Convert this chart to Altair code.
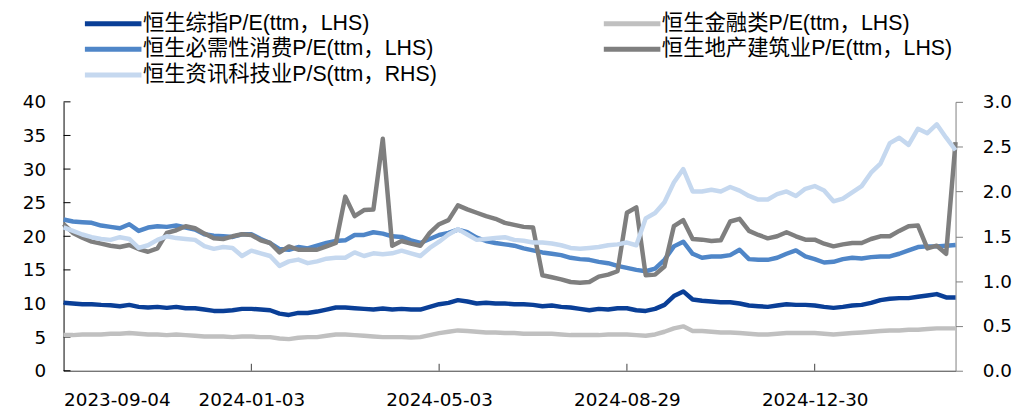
import altair as alt
import pandas as pd

# x-axis: trading-day index; ticks every 80 trading days
tick_idx = [0, 80, 160, 240, 320]
tick_labels = ["2023-09-04", "2024-01-03", "2024-05-03", "2024-08-29", "2024-12-30"]
x_max = 380
sample_step = 4  # trading days between samples

names = [
    "恒生综指P/E(ttm，LHS)",
    "恒生金融类P/E(ttm，LHS)",
    "恒生必需性消费P/E(ttm，LHS)",
    "恒生地产建筑业P/E(ttm，LHS)",
    "恒生资讯科技业P/S(ttm，RHS)",
]
colors = ["#0A3F97", "#C0C0C0", "#4F86C8", "#7F7F7F", "#C5D8EF"]
# legend fills column by column: left column first, then right column
legend_order = [0, 2, 4, 1, 3]

hsci = [10.1, 10.0, 9.9, 9.9, 9.8, 9.75, 9.6, 9.8, 9.5, 9.4,
        9.5, 9.35, 9.5, 9.3, 9.3, 9.1, 8.9, 8.9, 9.0, 9.2,
        9.2, 9.1, 9.0, 8.5, 8.3, 8.6, 8.6, 8.8, 9.1, 9.4,
        9.4, 9.3, 9.2, 9.1, 9.25, 9.1, 9.2, 9.1, 9.1, 9.5,
        9.9, 10.1, 10.5, 10.3, 10.0, 10.1, 10.0, 10.0, 9.9, 9.9,
        9.8, 9.6, 9.7, 9.5, 9.4, 9.2, 9.0, 9.2, 9.1, 9.3,
        9.3, 9.0, 8.9, 9.2, 9.8, 11.1, 11.8, 10.6, 10.4, 10.3,
        10.2, 10.2, 10.0, 9.7, 9.6, 9.5, 9.7, 9.9, 9.8, 9.8,
        9.7, 9.5, 9.35, 9.5, 9.7, 9.8, 10.1, 10.5, 10.7, 10.8,
        10.8, 11.0, 11.2, 11.4, 10.9, 10.9]

fin = [5.3, 5.3, 5.4, 5.4, 5.4, 5.5, 5.5, 5.6, 5.5, 5.4,
       5.4, 5.3, 5.4, 5.3, 5.2, 5.1, 5.1, 5.1, 5.0, 5.1,
       5.1, 5.0, 5.0, 4.8, 4.7, 4.9, 5.0, 5.0, 5.2, 5.4,
       5.4, 5.3, 5.2, 5.1, 5.0, 5.0, 5.0, 4.95, 5.0, 5.3,
       5.6, 5.8, 6.0, 5.9, 5.8, 5.7, 5.7, 5.6, 5.6, 5.5,
       5.5, 5.5, 5.5, 5.4, 5.3, 5.3, 5.3, 5.3, 5.4, 5.4,
       5.4, 5.3, 5.2, 5.4, 5.8, 6.3, 6.6, 5.9, 5.9, 5.8,
       5.7, 5.7, 5.6, 5.5, 5.4, 5.4, 5.5, 5.6, 5.6, 5.6,
       5.6, 5.5, 5.4, 5.5, 5.6, 5.7, 5.8, 5.9, 6.0, 6.0,
       6.1, 6.1, 6.2, 6.3, 6.3, 6.3]

staples = [22.5, 22.2, 22.1, 22.0, 21.6, 21.4, 21.2, 21.8, 20.8, 21.3,
           21.5, 21.4, 21.6, 21.3, 21.0, 20.3, 20.1, 20.0, 19.9, 20.3,
           20.3, 19.6, 19.0, 18.1, 18.0, 18.4, 18.2, 18.6, 19.0, 19.3,
           19.4, 20.2, 20.2, 20.6, 20.4, 20.0, 19.9, 19.4, 19.0, 19.6,
           20.2, 20.5, 21.0, 20.6, 19.8, 19.3, 19.0, 18.8, 18.6, 18.2,
           17.9, 17.6, 17.4, 17.2, 16.8, 16.6, 16.5, 16.2, 16.0, 15.6,
           15.3, 15.0, 14.8, 15.2, 16.5, 18.5, 19.2, 17.4, 16.8, 17.0,
           17.0, 17.2, 18.0, 16.6, 16.5, 16.5, 16.8, 17.4, 17.9, 17.0,
           16.6, 16.1, 16.2, 16.6, 16.8, 16.7, 16.9, 17.0, 17.0, 17.4,
           17.9, 18.4, 18.5, 18.5, 18.6, 18.7]

prop = [21.8, 20.5, 19.8, 19.2, 18.9, 18.6, 18.4, 18.7, 18.1, 17.7,
        18.2, 20.5, 20.9, 21.5, 21.2, 20.4, 19.7, 19.6, 20.0, 20.3,
        20.2, 19.4, 19.0, 17.6, 18.5, 18.0, 18.0, 18.0, 18.5, 19.0,
        25.9, 23.0, 23.9, 24.0, 34.5, 18.6, 19.3, 18.9, 18.6, 20.5,
        21.8, 22.4, 24.6, 24.0, 23.5, 23.0, 22.6, 22.0, 21.7, 21.4,
        21.3, 14.2, 13.9, 13.6, 13.2, 13.1, 13.2, 14.0, 14.3, 14.8,
        23.5, 24.3, 14.2, 14.3, 15.5, 21.5, 22.4, 19.6, 19.5, 19.3,
        19.4, 22.2, 22.6, 20.8, 20.2, 19.7, 20.0, 20.6, 20.0, 19.5,
        19.5, 18.9, 18.5, 18.8, 19.0, 19.0, 19.6, 20.0, 20.0, 20.8,
        21.5, 21.6, 18.2, 18.6, 17.4, 34.0]

tech = [1.60, 1.56, 1.52, 1.49, 1.47, 1.46, 1.49, 1.47, 1.37, 1.40,
        1.46, 1.50, 1.48, 1.47, 1.46, 1.39, 1.36, 1.38, 1.37, 1.28,
        1.34, 1.31, 1.28, 1.17, 1.22, 1.24, 1.20, 1.22, 1.25, 1.26,
        1.26, 1.32, 1.28, 1.31, 1.30, 1.31, 1.34, 1.31, 1.28, 1.37,
        1.44, 1.52, 1.58, 1.52, 1.46, 1.47, 1.48, 1.49, 1.46, 1.45,
        1.43, 1.43, 1.42, 1.40, 1.37, 1.36, 1.37, 1.38, 1.40, 1.41,
        1.43, 1.40, 1.70, 1.76, 1.88, 2.10, 2.25, 2.00, 2.00, 2.02,
        2.00, 2.05, 2.01, 1.95, 1.91, 1.91, 1.97, 2.00, 1.95, 2.03,
        2.06, 2.01, 1.89, 1.92, 1.99, 2.06, 2.21, 2.31, 2.54, 2.60,
        2.52, 2.70, 2.65, 2.75, 2.60, 2.46]

left_ticks = [0, 5, 10, 15, 20, 25, 30, 35, 40]
right_ticks = [0.0, 0.5, 1.0, 1.5, 2.0, 2.5, 3.0]

idx = [i * sample_step for i in range(len(hsci))]

left_series = [hsci, fin, staples, prop]
W, H = 899, 271
AXIS_FONT = "DejaVu Sans"
LEG_FONT = "Liberation Sans, Noto Sans CJK SC"

label_expr = " : ".join(
    f"datum.value == {v} ? '{t}'" for v, t in zip(tick_idx, tick_labels)
) + " : ''"

x_enc = alt.X(
    "idx:Q",
    scale=alt.Scale(domain=[0, x_max], nice=False, zero=False),
    axis=alt.Axis(values=tick_idx, labelExpr=label_expr, title=None, grid=False,
                  ticks=False, domainColor="#404040", labelFont=AXIS_FONT,
                  labelFontSize=18.5, labelColor="black", labelPadding=20),
)
color_enc = alt.Color(
    "series:N",
    scale=alt.Scale(domain=[names[k] for k in legend_order],
                    range=[colors[k] for k in legend_order]),
    legend=alt.Legend(
        title=None, orient="none", legendX=19, legendY=-91, columns=2,
        symbolType="M-1,0L5,0", symbolStrokeWidth=5, symbolSize=361,
        labelFont=LEG_FONT, labelFontSize=21.5, labelColor="black",
        labelLimit=600, columnPadding=157, rowPadding=3, labelOffset=37,
        padding=0,
    ),
)
y_left = alt.Y(
    "value:Q",
    scale=alt.Scale(domain=[0, 40], nice=False),
    axis=alt.Axis(values=left_ticks, title=None, grid=False, ticks=False,
                  domainColor="black", labelFont=AXIS_FONT, labelFontSize=18.5,
                  labelColor="black", labelPadding=18),
)
y_right = alt.Y(
    "value:Q",
    scale=alt.Scale(domain=[0, 3], nice=False),
    axis=alt.Axis(values=right_ticks, format=".1f", orient="right", title=None,
                  grid=False, domainColor="#808080", tickColor="#808080",
                  tickSize=7, labelFont=AXIS_FONT, labelFontSize=18.5,
                  labelColor="black", labelPadding=20),
)

left_layers = []
# inward ticks on the left axis and the x axis
lt_df = pd.DataFrame({"value": left_ticks})
left_layers.append(
    alt.Chart(lt_df).mark_rule(color="black", strokeWidth=1).encode(
        y=y_left, x=alt.value(0), x2=alt.value(7))
)
xt_df = pd.DataFrame({"idx": tick_idx[1:]})
left_layers.append(
    alt.Chart(xt_df).mark_rule(color="#404040", strokeWidth=1).encode(
        x=x_enc, y=alt.value(H), y2=alt.value(H - 7))
)
for name, vals in zip(names[:4], left_series):
    df = pd.DataFrame({"idx": idx, "value": vals, "series": name})
    left_layers.append(
        alt.Chart(df).mark_line(strokeWidth=4.5, strokeJoin="round").encode(
            x=x_enc, y=y_left, color=color_enc)
    )
left = alt.layer(*left_layers)

tech_df = pd.DataFrame({"idx": idx, "value": tech, "series": names[4]})
right = alt.Chart(tech_df).mark_line(strokeWidth=4.5, strokeJoin="round").encode(
    x=x_enc, y=y_right, color=color_enc)

chart = alt.layer(left, right).resolve_scale(y="independent").properties(
    width=W, height=H,
    autosize=alt.AutoSizeParams(type="none"),
    padding={"left": 56, "top": 93, "right": 69, "bottom": 40},
).configure_view(stroke=None)

chart.save("out.html", embed_options={"renderer": "svg", "actions": False})
